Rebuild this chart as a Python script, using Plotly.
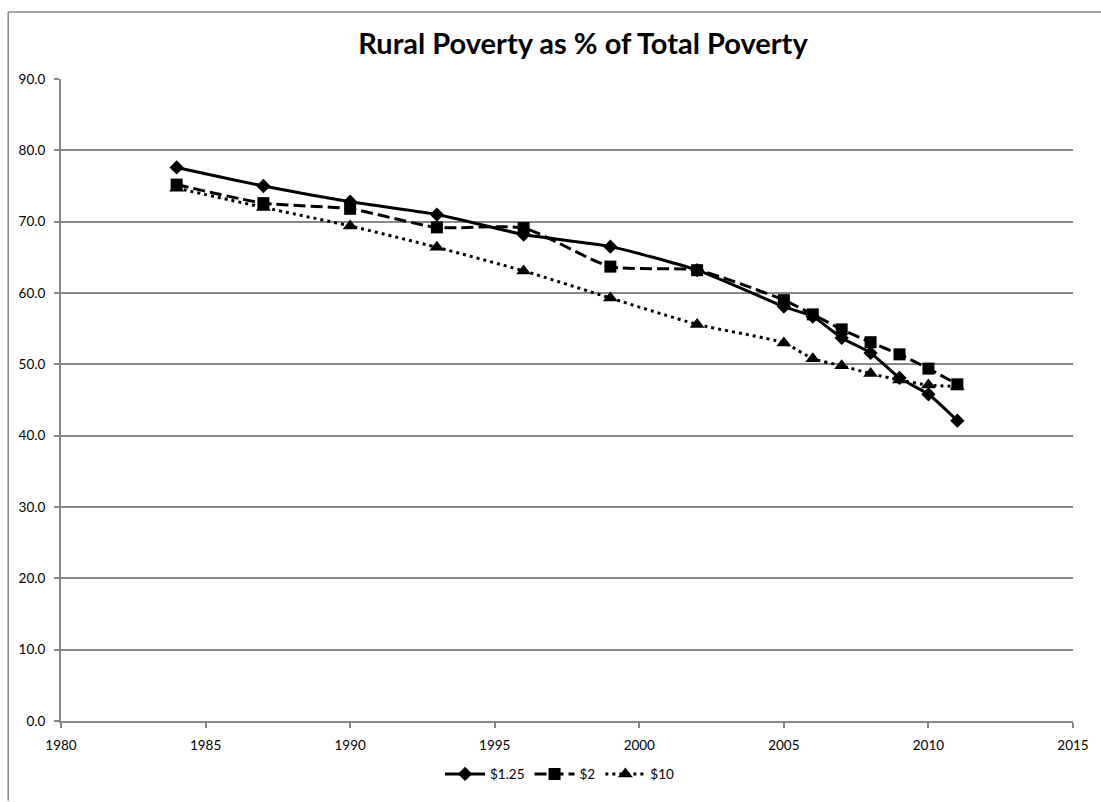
import plotly.graph_objects as go

# Survey years and rural share of total poverty (%) at each poverty line
years = [1984, 1987, 1990, 1993, 1996, 1999, 2002, 2005, 2006, 2007, 2008, 2009, 2010, 2011]
line_125 = [77.6, 75.0, 72.8, 71.0, 68.2, 66.5, 63.2, 58.1, 56.7, 53.7, 51.6, 48.1, 45.8, 42.1]
line_2 = [75.2, 72.6, 71.8, 69.2, 69.1, 63.7, 63.2, 59.0, 57.0, 54.9, 53.1, 51.4, 49.4, 47.2]
line_10 = [74.7, 72.0, 69.4, 66.4, 63.1, 59.3, 55.6, 53.0, 50.8, 49.8, 48.7, 47.8, 47.1, 46.9]

series_names = ["$1.25", "$2", "$10"]
x_ticks = [1980, 1985, 1990, 1995, 2000, 2005, 2010, 2015]
y_ticks = [0, 10, 20, 30, 40, 50, 60, 70, 80, 90]

FONT = "Lato, 'Open Sans', sans-serif"
GRID = "#878787"

W, H = 1101, 802
L, R, T, B = 61, 24, 79, 71
plot_w = W - L - R
plot_h = H - T - B

fig = go.Figure()

fig.add_trace(go.Scatter(
    x=years, y=line_125, name=series_names[0], mode="lines+markers",
    line=dict(color="black", width=3, shape="spline", smoothing=0.6),
    marker=dict(symbol="diamond", size=11, color="black"),
))
fig.add_trace(go.Scatter(
    x=years, y=line_2, name=series_names[1], mode="lines+markers",
    line=dict(color="black", width=3, dash="12px,5px", shape="spline", smoothing=0.6),
    marker=dict(symbol="square", size=12, color="black"),
))
fig.add_trace(go.Scatter(
    x=years, y=line_10, name=series_names[2], mode="lines+markers",
    line=dict(color="black", width=3, dash="3px,4px", shape="spline", smoothing=0.6),
    marker=dict(symbol="triangle-up", size=13, color="black"),
))

def px_to_paper_x(px):
    return (px - L) / plot_w

def px_to_paper_y(py):
    return (H - B - py) / plot_h

# Chart-area frame: only its top and left edges fall inside the page
frame = dict(type="line", xref="paper", yref="paper",
             line=dict(color=GRID, width=1.5), layer="below")
fig.add_shape(**frame, x0=px_to_paper_x(8), x1=px_to_paper_x(W + 10),
              y0=px_to_paper_y(11), y1=px_to_paper_y(11))
fig.add_shape(**frame, x0=px_to_paper_x(8), x1=px_to_paper_x(8),
              y0=px_to_paper_y(11), y1=px_to_paper_y(H + 10))

fig.update_layout(
    width=W, height=H,
    margin=dict(l=L, r=R, t=T, b=B),
    paper_bgcolor="white", plot_bgcolor="white",
    font=dict(family=FONT, color="black", size=13.5),
    title=dict(
        text="<b>Rural Poverty as % of Total Poverty</b>",
        x=583 / W, xref="container", xanchor="center",
        y=1 - 44 / H, yref="container", yanchor="middle",
        font=dict(family=FONT, size=29, color="black"),
    ),
    xaxis=dict(
        range=[1980, 2015], tickvals=x_ticks, showgrid=False, zeroline=False,
        showline=True, linecolor=GRID, linewidth=2,
        ticks="outside", ticklen=5, tickwidth=2, tickcolor=GRID,
        ticklabelstandoff=6,
    ),
    yaxis=dict(
        range=[0, 90], tickvals=y_ticks, tickformat=".1f",
        showgrid=True, gridcolor=GRID, gridwidth=1.5, zeroline=False,
        showline=True, linecolor=GRID, linewidth=2,
        ticks="outside", ticklen=5, tickwidth=2, tickcolor=GRID,
        ticklabelstandoff=6,
    ),
    legend=dict(
        orientation="h", x=px_to_paper_x(562), xanchor="center",
        y=px_to_paper_y(785), yanchor="middle",
        font=dict(family=FONT, size=13.5), itemwidth=40,
        bgcolor="rgba(0,0,0,0)",
    ),
    showlegend=True,
)

fig.write_html("out.html")
